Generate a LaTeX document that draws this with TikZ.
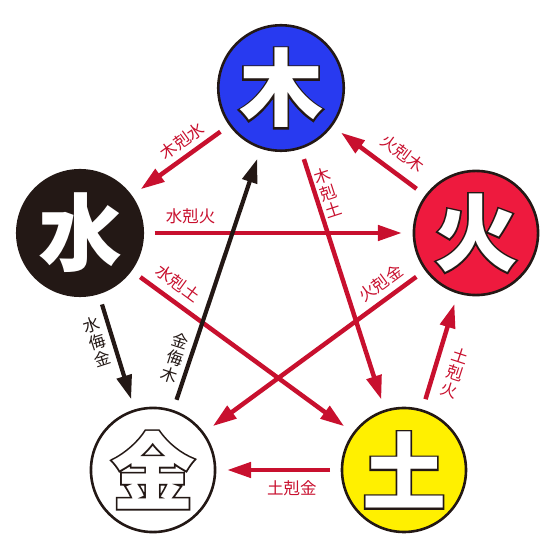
\documentclass[tikz,border=0pt]{standalone}
\usepackage{fontspec}
\newfontfamily\cjk{Noto Sans CJK JP}
\newfontfamily\cjkfat{Noto Sans CJK JP}[UprightFeatures={FakeBold=4}, BoldFeatures={FakeBold=4}]
\usetikzlibrary{arrows.meta}
\definecolor{ink}{RGB}{35,24,21}
\definecolor{woodblue}{RGB}{40,58,240}
\definecolor{firered}{RGB}{238,26,62}
\definecolor{earthyellow}{RGB}{255,240,0}
\definecolor{kokured}{RGB}{200,16,46}
% white glyph on a black rim
\newcommand{\rimchar}[1]{\rlap{\textcolor{ink}{\cjkfat\bfseries #1}}#1}
\tikzset{
    element/.style={circle, draw=ink, line width=2.6pt, minimum size=124pt, outer sep=12pt,
        text=white, font=\cjk\bfseries\fontsize{84}{84}\selectfont},
    koku/.style={draw=kokured, line width=4.5pt, -{Triangle[length=24pt,width=15pt]}},
    bu/.style={draw=ink, line width=4.2pt, -{Triangle[length=24pt,width=15pt]}},
    kokutext/.style={text=kokured, inner sep=1pt, font=\cjk\fontsize{16.5}{18}\selectfont},
    butext/.style={text=ink, inner sep=1pt, font=\cjk\fontsize{16.5}{18}\selectfont}
}
\begin{document}
\begin{tikzpicture}[x=1pt,y=1pt]
                \useasboundingbox (0,0) rectangle (560,560);
                % the five elements
                \node[element, fill=woodblue] (wood) at (281,472) {\rimchar{木}};
                \node[element, fill=ink] (water) at (80,327) {\rimchar{水}};
                \node[element, fill=firered] (fire) at (476,327) {\rimchar{火}};
                \node[element, fill=white] (metal) at (153,90) {\rimchar{金}};
                \node[element, fill=earthyellow] (earth) at (404,90) {\rimchar{土}};
                % overcoming (red)
                \draw[koku] (wood) -- (water) node[kokutext, sloped, pos=0.37, above=4pt] {木剋水};
                \draw[koku] (fire) -- (wood) node[kokutext, sloped, pos=0.34, above=9.5pt] {火剋木};
                \draw[koku] (water) -- (fire) node[kokutext, sloped, pos=0.145, above=5.5pt] {水剋火};
                \draw[koku] (water) -- (earth) node[kokutext, sloped, pos=0.136, above=6.5pt] {水剋土};
                \draw[koku] (fire) -- (metal) node[kokutext, sloped, pos=0.128, above=5pt] {火剋金};
                \draw[koku] (earth) -- (metal) node[kokutext, sloped, pos=0.37, below=7.5pt] {土剋金};
                \draw[koku] (wood) -- (earth);
                \draw[koku] (earth) -- (fire);
                \node[kokutext, align=center, rotate=18] (woodearth) at (328,367) {木\\剋\\土};
                \node[kokutext, align=center, rotate=-18] (earthfire) at (455,187) {土\\剋\\火};
                % insulting (black)
                \draw[bu] (water) -- (metal);
                \draw[bu] (metal) -- (wood);
                \node[butext, align=center, rotate=18] (watermetal) at (97,218) {水\\侮\\金};
                \node[butext, align=center, rotate=-18] (metalwood) at (175,202) {金\\侮\\木};
            \end{tikzpicture}
\end{document}
